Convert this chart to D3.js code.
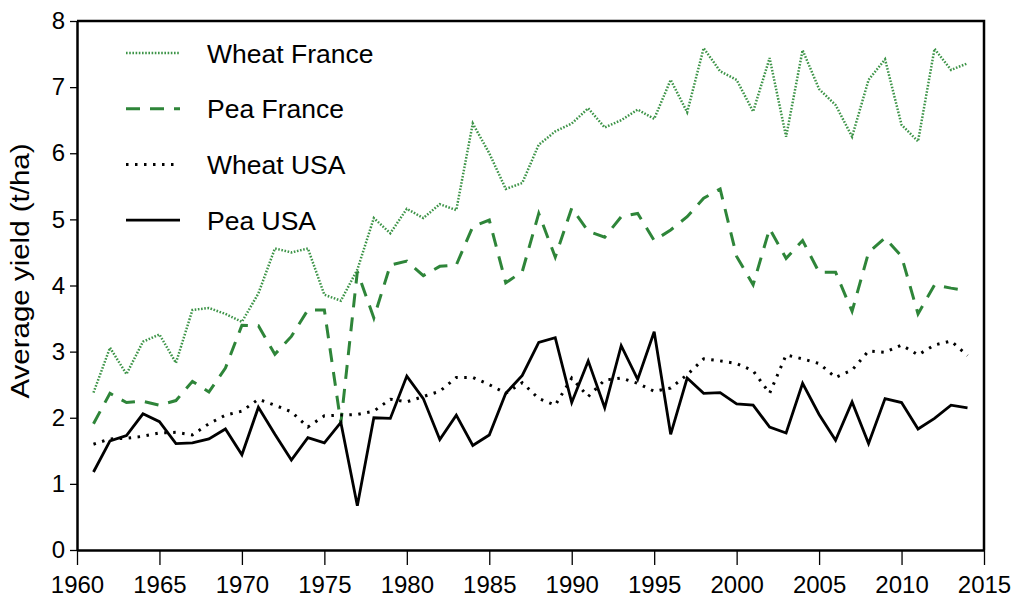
<!doctype html>
<html>
  <head>
    <script src="https://cdn.jsdelivr.net/npm/d3@7"></script>
    <style>
      body { margin: 0; background: #fff; }
      text { font-family: "Liberation Sans", Arial, sans-serif; }
    </style>
  </head>
  <body>
    <svg id="chart" width="1015" height="601"></svg>

    <script>
      var years = d3.range(1961, 2015);

      var wheatFrance = [2.38, 3.06, 2.66, 3.15, 3.26, 2.83, 3.63, 3.66, 3.57, 3.45,
        3.88, 4.56, 4.50, 4.56, 3.86, 3.77, 4.24, 5.02, 4.79, 5.16,
        5.02, 5.23, 5.14, 6.45, 6.00, 5.46, 5.55, 6.13, 6.33, 6.45,
        6.68, 6.39, 6.50, 6.66, 6.52, 7.11, 6.62, 7.59, 7.24, 7.11,
        6.63, 7.44, 6.25, 7.56, 6.97, 6.73, 6.25, 7.11, 7.42, 6.43,
        6.18, 7.58, 7.26, 7.36];

      var peaFrance = [1.91, 2.37, 2.23, 2.25, 2.19, 2.26, 2.55, 2.39, 2.75, 3.40,
        3.39, 2.96, 3.23, 3.63, 3.63, 1.92, 4.21, 3.51, 4.31, 4.37,
        4.15, 4.29, 4.31, 4.89, 4.99, 4.04, 4.21, 5.09, 4.43, 5.17,
        4.82, 4.73, 5.04, 5.09, 4.68, 4.84, 5.04, 5.32, 5.46, 4.44,
        4.01, 4.86, 4.41, 4.68, 4.20, 4.20, 3.61, 4.50, 4.72, 4.44,
        3.57, 4.01, 3.96, 3.92];

      var wheatUSA = [1.60, 1.68, 1.69, 1.72, 1.77, 1.78, 1.74, 1.91, 2.04, 2.10,
        2.28, 2.19, 2.09, 1.86, 2.03, 2.04, 2.05, 2.10, 2.28, 2.24,
        2.32, 2.40, 2.61, 2.61, 2.50, 2.37, 2.53, 2.29, 2.19, 2.60,
        2.32, 2.57, 2.60, 2.52, 2.40, 2.45, 2.65, 2.89, 2.86, 2.82,
        2.71, 2.37, 2.95, 2.89, 2.82, 2.61, 2.72, 3.01, 2.99, 3.10,
        2.95, 3.10, 3.16, 2.94];

      var peaUSA = [1.18, 1.65, 1.73, 2.06, 1.94, 1.61, 1.62, 1.68, 1.83, 1.44,
        2.16, 1.75, 1.36, 1.70, 1.62, 1.93, 0.67, 2.00, 1.99, 2.63,
        2.29, 1.67, 2.04, 1.58, 1.74, 2.37, 2.64, 3.14, 3.21, 2.23,
        2.86, 2.15, 3.09, 2.58, 3.30, 1.75, 2.60, 2.37, 2.38, 2.21,
        2.19, 1.86, 1.77, 2.52, 2.05, 1.66, 2.24, 1.61, 2.29, 2.23,
        1.83, 1.99, 2.19, 2.15];

      var xTicks = d3.range(1960, 2016, 5);
      var yTicks = d3.range(0, 9, 1);

      var series = [
        { name: "Wheat France", values: wheatFrance, color: "#3d9448", width: 2.5, dash: "1.6,1.6" },
        { name: "Pea France", values: peaFrance, color: "#2e8539", width: 3, dash: "14,10" },
        { name: "Wheat USA", values: wheatUSA, color: "#000", width: 3, dash: "2.5,6.5" },
        { name: "Pea USA", values: peaUSA, color: "#000", width: 2.8, dash: null }
      ];

      var plotL = 77, plotR = 984, plotT = 21, plotB = 550;

      var x = d3.scaleLinear().domain([1960, 2015]).range([plotL, plotR]);
      var y = d3.scaleLinear().domain([0, 8]).range([plotB, plotT]);

      var svg = d3.select("#chart");

      // frame on top and right
      svg.append("path")
        .attr("d", "M" + plotL + "," + plotT + "H" + plotR + "V" + plotB)
        .attr("fill", "none")
        .attr("stroke", "#000")
        .attr("stroke-width", 2.5);

      var xAxis = svg.append("g")
        .attr("transform", "translate(0," + plotB + ")")
        .call(d3.axisBottom(x).tickValues(xTicks).tickFormat(d3.format("d"))
          .tickSize(15).tickSizeOuter(0).tickPadding(11));

      var yAxis = svg.append("g")
        .attr("transform", "translate(" + plotL + ",0)")
        .call(d3.axisLeft(y).tickValues(yTicks).tickSize(7).tickSizeOuter(0).tickPadding(5));

      [xAxis, yAxis].forEach(function(g) {
        g.select(".domain").attr("stroke-width", 2.5);
        g.selectAll(".tick line").attr("stroke-width", 1.3);
        g.selectAll(".tick text").attr("font-size", 24).attr("fill", "#000")
          .style("font-family", "'Liberation Sans', Arial, sans-serif");
      });

      // the y title is a bit stretched along its length in the reference
      svg.append("text")
        .attr("transform", "translate(29,271) rotate(-90) scale(1.18,1)")
        .attr("text-anchor", "middle")
        .attr("font-size", 25)
        .text("Average yield (t/ha)");

      var line = d3.line()
        .x(function(d, i) { return x(years[i]); })
        .y(function(d) { return y(d); });

      svg.append("g").selectAll("path")
        .data(series)
        .enter()
        .append("path")
        .attr("fill", "none")
        .attr("stroke", function(d) { return d.color; })
        .attr("stroke-width", function(d) { return d.width; })
        .attr("stroke-dasharray", function(d) { return d.dash; })
        .attr("d", function(d) { return line(d.values); });

      var legend = svg.append("g").selectAll("g")
        .data(series)
        .enter()
        .append("g")
        .attr("transform", function(d, i) { return "translate(0," + (53 + i * 55.7) + ")"; });

      legend.append("line")
        .attr("x1", 126).attr("x2", 180)
        .attr("stroke", function(d) { return d.color; })
        .attr("stroke-width", function(d) { return d.width; })
        .attr("stroke-dasharray", function(d) { return d.dash; });

      legend.append("text")
        .attr("x", 207)
        .attr("dy", "0.36em")
        .attr("font-size", 26.5)
        .text(function(d) { return d.name; });
    </script>
  </body>
</html>
